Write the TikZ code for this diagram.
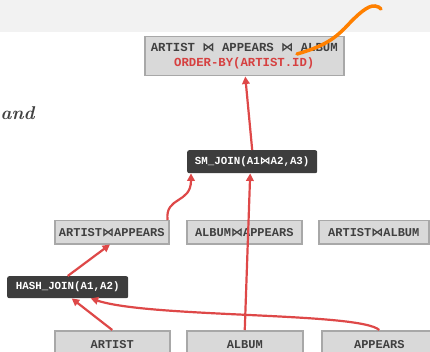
\documentclass[tikz,border=0pt]{standalone}
\usepackage{fontspec}
\setmonofont{Liberation Mono}
\newfontfamily\symf{DejaVu Sans}
\usetikzlibrary{arrows.meta}
\definecolor{boxfill}{RGB}{217,217,217}
\definecolor{boxline}{RGB}{168,168,168}
\definecolor{opfill}{RGB}{61,61,61}
\definecolor{txtgray}{RGB}{64,64,64}
\definecolor{arrred}{RGB}{222,72,72}
\definecolor{txtred}{RGB}{214,64,64}
\definecolor{orng}{RGB}{255,128,0}
\definecolor{band}{RGB}{242,242,242}
\newcommand\btie{{\symf ⋈}}
\begin{document}
\begin{tikzpicture}[x=1pt,y=-1pt,
  graybox/.style={draw=boxline,fill=boxfill,line width=1.5pt,anchor=north west,inner sep=0pt,
    font=\ttfamily\bfseries\fontsize{12}{14}\selectfont,text=txtgray},
  opbox/.style={fill=opfill,rounded corners=2pt,anchor=north west,inner sep=0pt,
    font=\ttfamily\bfseries\fontsize{10.8}{12}\selectfont,text=white},
  arr/.style={draw=arrred,line width=2.2pt,-{Triangle[length=7.5pt,width=7.5pt]}},
]
\useasboundingbox (0,0) rectangle (430,352);
\clip (0,0) rectangle (430,352);
\fill[band] (0,0) rectangle (430,32);

\node[anchor=base west,inner sep=0pt,font=\bfseries\itshape\fontsize{18.5}{20}\selectfont,text=txtgray] (andw) at (0.5,120) {and};

% result box
\node[graybox,minimum width=199pt,minimum height=39pt,align=center,
  font=\ttfamily\bfseries\fontsize{12.3}{15}\selectfont] (top) at (144,36)
  {ARTIST \btie{} APPEARS \btie{} ALBUM\\\textcolor{txtred}{ORDER-BY(ARTIST.ID)}};

% operators
\node[opbox,minimum width=130pt,minimum height=23pt] (sm) at (187,150) {SM\_JOIN(A1\btie A2,A3)};
\node[opbox,minimum width=121pt,minimum height=22pt] (hj) at (7,276) {HASH\_JOIN(A1,A2)};

% middle row
\node[graybox,minimum width=114pt,minimum height=23pt] (ap) at (54,220) {ARTIST\btie APPEARS};
\node[graybox,minimum width=115pt,minimum height=23pt] (alap) at (186,220) {ALBUM\btie APPEARS};
\node[graybox,minimum width=110pt,minimum height=23pt] (aral) at (318,220) {ARTIST\btie ALBUM};

% bottom row
\node[graybox,minimum width=115pt,minimum height=27pt] (art) at (54,330) {ARTIST};
\node[graybox,minimum width=116pt,minimum height=27pt] (alb) at (186,330) {ALBUM};
\node[graybox,minimum width=115pt,minimum height=27pt] (apr) at (321,330) {APPEARS};

% connectors
\draw[arr] (alb.north) -- ([xshift=-2pt]sm.south);
\draw[arr] (sm.north) -- ([xshift=1pt]top.south);
\draw[arr] ([xshift=-2pt]ap.north east) .. controls (165,196) and (191,204) .. ([xshift=4pt]sm.south west);
\draw[arr] (hj.north) -- ([xshift=56pt]ap.south west);
\draw[arr] (art.north) -- ([xshift=4pt]hj.south);
\draw[arr] (apr.north) .. controls (360,312) and (150,318) .. ([xshift=23pt]hj.south);

% scribble
\draw[orng,line width=3.5pt,line cap=round] (297,54) .. controls (325,46) and (335,38) .. (345,28)
  .. controls (358,14) and (368,5) .. (375,6) .. controls (378,6) and (380,8) .. (381,9);
\end{tikzpicture}
\end{document}
